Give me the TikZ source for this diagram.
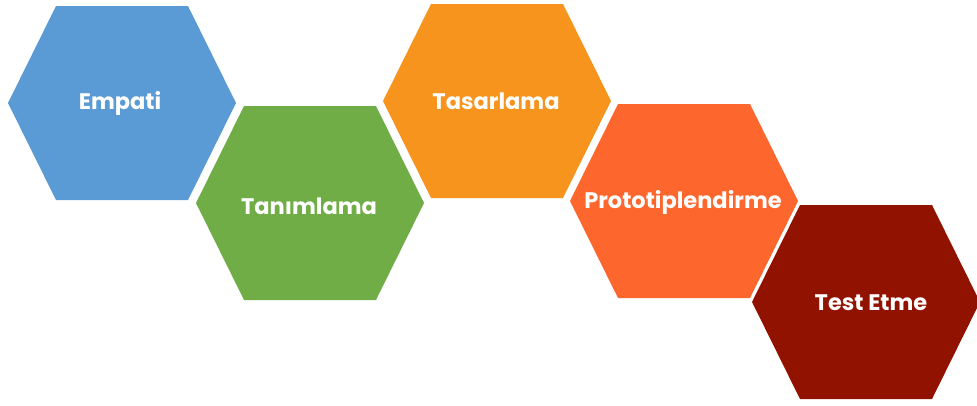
\documentclass[tikz,border=0pt]{standalone}
\usepackage{fontspec}
\setmainfont{Poppins}
\definecolor{cblue}{HTML}{5B9BD5}
\definecolor{cgreen}{HTML}{70AD47}
\definecolor{corange}{HTML}{F7941D}
\definecolor{cred}{HTML}{FD662D}
\definecolor{cdark}{HTML}{921200}
\newcommand\hexagonpath[3]{%
  \fill[#3] (#1-114,#2) -- (#1-66,#2-97) -- (#1+66,#2-97) -- (#1+114,#2)
    -- (#1+66,#2+97) -- (#1-66,#2+97) -- cycle;}
\tikzset{lbl/.style={text=white,font=\bfseries\fontsize{22.5}{24}\selectfont,inner sep=0pt}}
\begin{document}
\begin{tikzpicture}[x=1pt,y=-1pt]
\useasboundingbox[fill=white] (0,0) rectangle (977,405);
\hexagonpath{122}{103}{cblue}
\hexagonpath{310}{203}{cgreen}
\hexagonpath{497}{101}{corange}
\hexagonpath{684}{201}{cred}
\hexagonpath{866}{302}{cdark}
\node[lbl] (empati) at (120,103) {Empati};
\node[lbl] (tanim) at (309,206) {Tanımlama};
\node[lbl] (tasar) at (496,101) {Tasarlama};
\node[lbl] (proto) at (683,202) {Prototiplendirme};
\node[lbl] (test) at (871,303) {Test Etme};
\end{tikzpicture}
\end{document}
